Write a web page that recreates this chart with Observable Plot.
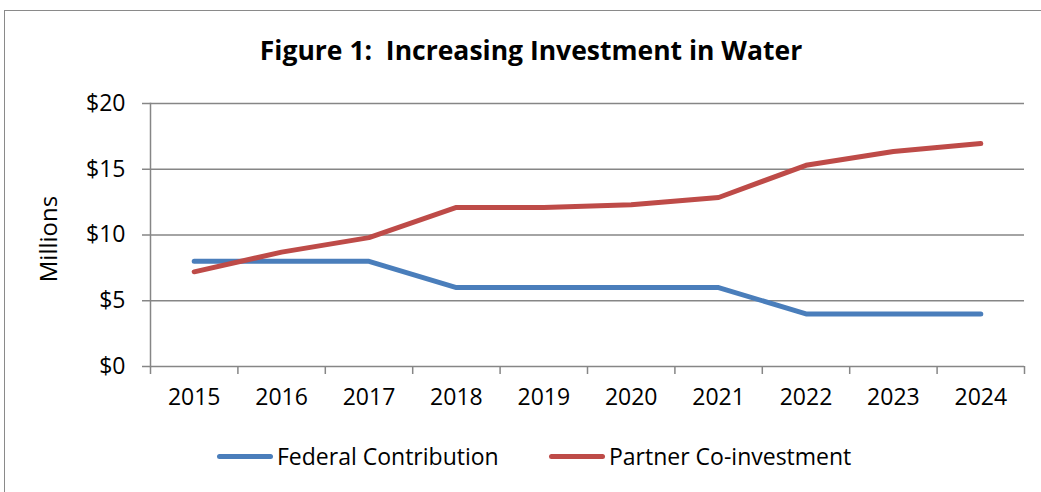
<!DOCTYPE html>
<html>
<head>
<meta charset="utf-8">
<script src="https://cdn.jsdelivr.net/npm/d3@7"></script>
<script src="https://cdn.jsdelivr.net/npm/@observablehq/plot@0.6"></script>
<style>
  html, body { margin: 0; padding: 0; background: #fff; overflow: hidden; }
  #wrap { position: relative; width: 1041px; height: 492px; overflow: hidden; font-family: "Open Sans", sans-serif; }
  #border { position: absolute; left: 4px; top: 10px; width: 1200px; height: 700px; border: 1.5px solid #8a8a8a; box-sizing: border-box; }
  #title { position: absolute; left: 0; width: 1062px; top: 32px; text-align: center; font-weight: bold; font-size: 26.5px; color: #000; white-space: nowrap; }
  #ylabel { position: absolute; left: 47px; top: 239px; transform: translate(-50%, -50%) rotate(-90deg); font-size: 24px; white-space: nowrap; }
  #chart { position: absolute; left: 0; top: 0; }
  #legend { position: absolute; top: 440px; left: 0; width: 1041px; height: 32px; }
  .item { position: absolute; top: 0; display: flex; align-items: center; font-size: 23px; white-space: nowrap; height: 32px; }
  .swatch { display: inline-block; width: 56px; height: 5px; border-radius: 3px; margin-right: 4px; }
</style>
</head>
<body>
<div id="wrap">
  <div id="border"></div>
  <div id="title">Figure 1:&nbsp; Increasing Investment in Water</div>
  <div id="ylabel">Millions</div>
  <div id="chart"></div>
  <div id="legend"></div>
</div>
<script>
const years = [2015, 2016, 2017, 2018, 2019, 2020, 2021, 2022, 2023, 2024];
const federal = [8, 8, 8, 6, 6, 6, 6, 4, 4, 4];
const partner = [7.2, 8.7, 9.8, 12.1, 12.1, 12.3, 12.85, 15.3, 16.35, 16.95];
const seriesNames = ["Federal Contribution", "Partner Co-investment"];
const seriesColors = ["#4a7ebb", "#be4b48"];
const yTicks = [0, 5, 10, 15, 20];

const rows = [];
years.forEach((yr, i) => {
  rows.push({year: yr, value: federal[i], series: seriesNames[0]});
  rows.push({year: yr, value: partner[i], series: seriesNames[1]});
});
const bounds = years.map(y => y - 0.5).concat([years[years.length - 1] + 0.5]);
const grid = "#868686";

const chart = Plot.plot({
  width: 1041,
  height: 420,
  marginLeft: 150,
  marginRight: 17,
  marginTop: 103,
  marginBottom: 54,
  style: {fontFamily: "'Open Sans', sans-serif", fontSize: "23px", color: "#000", background: "transparent"},
  x: {type: "linear", domain: [bounds[0], bounds[bounds.length - 1]]},
  y: {domain: [0, 20]},
  color: {domain: seriesNames, range: seriesColors},
  marks: [
    Plot.ruleY(yTicks, {stroke: grid, strokeWidth: 1.5, strokeOpacity: 1}),
    Plot.axisY({ticks: yTicks, tickSize: 8, tickPadding: 17, stroke: grid, strokeWidth: 1.5, strokeOpacity: 1, tickFormat: d => "$" + d, label: null, fontSize: 23}),
    Plot.frame({anchor: "left", stroke: grid, strokeWidth: 1.5}),
    Plot.axisX({ticks: bounds, tickSize: 8, stroke: grid, strokeWidth: 1.5, strokeOpacity: 1, tickFormat: () => "", label: null}),
    Plot.axisX({ticks: years, tickSize: 0, tickPadding: 22, tickFormat: d => String(d), label: null, fontSize: 23}),
    Plot.line(rows, {x: "year", y: "value", z: "series", stroke: "series", strokeWidth: 5, strokeLinecap: "round", strokeLinejoin: "round"})
  ]
});
document.getElementById("chart").appendChild(chart);

const legend = document.getElementById("legend");
const lefts = [217, 549];
seriesNames.forEach((name, i) => {
  const item = document.createElement("div");
  item.className = "item";
  item.style.left = lefts[i] + "px";
  const sw = document.createElement("span");
  sw.className = "swatch";
  sw.style.background = seriesColors[i];
  item.appendChild(sw);
  item.appendChild(document.createTextNode(name));
  legend.appendChild(item);
});
</script>
</body>
</html>
